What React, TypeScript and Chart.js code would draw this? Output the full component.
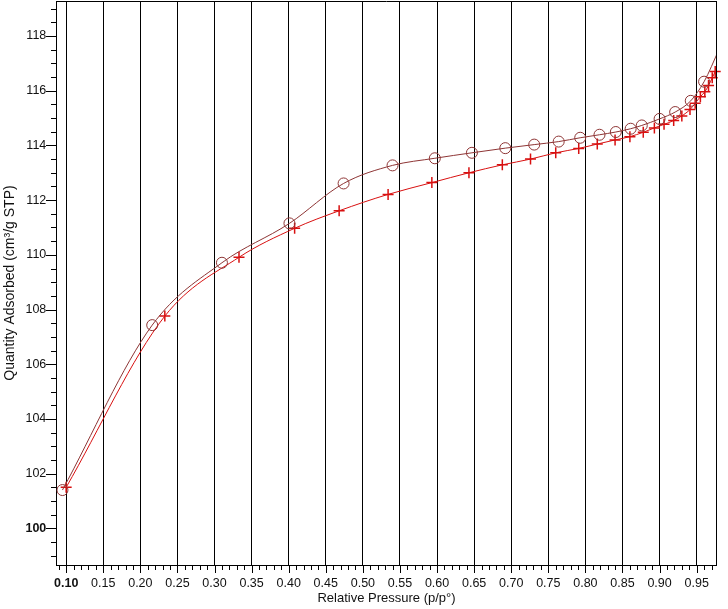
import React, { useEffect, useRef } from "react";
import { Chart, registerables } from "chart.js";

Chart.register(...registerables);

// Adsorption branch (red +)
const adsX = [0.100, 0.233, 0.333, 0.408, 0.468, 0.534, 0.593, 0.643, 0.688, 0.726, 0.760, 0.791, 0.816, 0.840, 0.860, 0.878, 0.893, 0.906, 0.919, 0.930, 0.941, 0.948, 0.955, 0.961, 0.966, 0.971, 0.975];
const adsY = [101.50, 107.76, 109.91, 110.97, 111.61, 112.21, 112.64, 113.00, 113.29, 113.50, 113.73, 113.89, 114.05, 114.20, 114.32, 114.48, 114.64, 114.77, 114.91, 115.08, 115.31, 115.54, 115.78, 115.96, 116.19, 116.47, 116.70];

// Desorption branch (brown circles)
const desX = [0.095, 0.216, 0.310, 0.401, 0.474, 0.540, 0.597, 0.647, 0.692, 0.731, 0.764, 0.793, 0.819, 0.841, 0.861, 0.876, 0.900, 0.921, 0.942, 0.960, 0.980];
const desY = [101.40, 107.43, 109.71, 111.15, 112.61, 113.27, 113.53, 113.73, 113.90, 114.03, 114.14, 114.28, 114.39, 114.49, 114.61, 114.73, 114.97, 115.22, 115.63, 116.33, 117.50];

// Axis ticks
const xMajorTicks = [0.10, 0.15, 0.20, 0.25, 0.30, 0.35, 0.40, 0.45, 0.50, 0.55, 0.60, 0.65, 0.70, 0.75, 0.80, 0.85, 0.90, 0.95];
const yMajorTicks = [100, 102, 104, 106, 108, 110, 112, 114, 116, 118];
const xMinorTicks = [0.09, 0.11, 0.12, 0.13, 0.14, 0.16, 0.17, 0.18, 0.19, 0.21, 0.22, 0.23, 0.24, 0.26, 0.27, 0.28, 0.29, 0.31, 0.32, 0.33, 0.34, 0.36, 0.37, 0.38, 0.39, 0.41, 0.42, 0.43, 0.44, 0.46, 0.47, 0.48, 0.49, 0.51, 0.52, 0.53, 0.54, 0.56, 0.57, 0.58, 0.59, 0.61, 0.62, 0.63, 0.64, 0.66, 0.67, 0.68, 0.69, 0.71, 0.72, 0.73, 0.74, 0.76, 0.77, 0.78, 0.79, 0.81, 0.82, 0.83, 0.84, 0.86, 0.87, 0.88, 0.89, 0.91, 0.92, 0.93, 0.94, 0.96, 0.97];
const yMinorTicks = [99, 99.5, 100.5, 101, 101.5, 102.5, 103, 103.5, 104.5, 105, 105.5, 106.5, 107, 107.5, 108.5, 109, 109.5, 110.5, 111, 111.5, 112.5, 113, 113.5, 114.5, 115, 115.5, 116.5, 117, 117.5, 118.5, 119];

const FONT = "'Liberation Sans', Arial, Helvetica, sans-serif";
const RED = "#d81010";
const BROWN = "#8e3535";

const framePlugin = {
  id: "frameTicks",
  afterDraw(chart: any) {
    const { ctx, chartArea: a, scales } = chart;
    const x = scales.x;
    const y = scales.y;
    ctx.save();
    ctx.strokeStyle = "#000";
    ctx.lineWidth = 1;
    ctx.beginPath();
    const top = Math.round(a.top) + 0.5;
    const right = Math.round(a.right) - 0.5;
    ctx.moveTo(a.left, top);
    ctx.lineTo(right, top);
    ctx.moveTo(right, a.top);
    ctx.lineTo(right, a.bottom);
    const b = Math.round(a.bottom);
    xMajorTicks.forEach((v) => {
      const px = Math.round(x.getPixelForValue(v)) + 0.5;
      ctx.moveTo(px, b);
      ctx.lineTo(px, b + 8);
    });
    xMinorTicks.forEach((v) => {
      const px = Math.round(x.getPixelForValue(v)) + 0.5;
      ctx.moveTo(px, b);
      ctx.lineTo(px, b + 5);
    });
    const l = Math.round(a.left);
    yMajorTicks.forEach((v) => {
      const py = Math.round(y.getPixelForValue(v)) + 0.5;
      ctx.moveTo(l, py);
      ctx.lineTo(l - 10, py);
    });
    yMinorTicks.forEach((v) => {
      const py = Math.round(y.getPixelForValue(v)) + 0.5;
      ctx.moveTo(l, py);
      ctx.lineTo(l - 5, py);
    });
    ctx.stroke();
    ctx.restore();
  },
};

export default function App() {
  const ref = useRef<HTMLCanvasElement>(null);
  useEffect(() => {
    if (!ref.current) return;
    const ads = adsX.map((v, i) => ({ x: v, y: adsY[i] }));
    const des = desX.map((v, i) => ({ x: v, y: desY[i] }));
    const chart = new Chart(ref.current, {
      type: "scatter",
      data: {
        datasets: [
          {
            label: "Desorption",
            data: des,
            showLine: true,
            borderColor: BROWN,
            borderWidth: 1,
            backgroundColor: "transparent",
            pointStyle: "circle",
            pointRadius: (c: any) => (c.dataIndex === desX.length - 1 ? 0 : 5.5),
            pointBorderColor: BROWN,
            pointBorderWidth: 1,
            pointBackgroundColor: "transparent",
            cubicInterpolationMode: "monotone",
          },
          {
            label: "Adsorption",
            data: ads,
            showLine: true,
            borderColor: RED,
            borderWidth: 1,
            backgroundColor: "transparent",
            pointStyle: "cross",
            pointRadius: 5.5,
            pointBorderColor: RED,
            pointBorderWidth: 1.5,
            cubicInterpolationMode: "monotone",
            clip: false,
          },
        ],
      } as any,
      options: {
        animation: false,
        responsive: false,
        maintainAspectRatio: false,
        layout: { autoPadding: false, padding: { left: 0, top: 1, right: 11.3, bottom: 0 } },
        plugins: { legend: { display: false }, tooltip: { enabled: false } },
        scales: {
          x: {
            type: "linear",
            min: 0.0867,
            max: 0.977,
            afterBuildTicks: (s: any) => {
              s.ticks = xMajorTicks.map((v) => ({ value: v }));
            },
            afterFit: (s: any) => {
              s.height = 44;
              s.paddingLeft = 0;
              s.paddingRight = 0;
              s.paddingTop = 0;
              s.paddingBottom = 0;
            },
            grid: { display: true, color: "#000", lineWidth: 1, drawTicks: false },
            border: { display: true, color: "#000", width: 1 },
            ticks: {
              padding: 11,
              color: "#111",
              maxRotation: 0,
              autoSkip: false,
              font: (c: any) => ({
                family: FONT,
                size: 12.5,
                weight: c.tick && Math.abs(c.tick.value - 0.1) < 1e-6 ? "bold" : "normal",
              }),
              callback: (v: any) => Number(v).toFixed(2),
            },
            title: {
              display: true,
              text: "Relative Pressure (p/p°)",
              color: "#111",
              font: { family: FONT, size: 13 },
              padding: { top: 0, bottom: 3 },
            },
          },
          y: {
            type: "linear",
            min: 98.66,
            max: 119.28,
            afterBuildTicks: (s: any) => {
              s.ticks = yMajorTicks.map((v) => ({ value: v }));
            },
            afterFit: (s: any) => {
              s.width = 56.3;
              s.paddingLeft = 0;
              s.paddingRight = 0;
              s.paddingTop = 0;
              s.paddingBottom = 0;
            },
            grid: { display: false, drawTicks: false },
            border: { display: true, color: "#000", width: 1 },
            ticks: {
              padding: 10,
              color: "#111",
              autoSkip: false,
              font: (c: any) => ({
                family: FONT,
                size: 12.5,
                weight: c.tick && c.tick.value === 100 ? "bold" : "normal",
              }),
              callback: (v: any) => String(v),
            },
            title: {
              display: true,
              text: "Quantity Adsorbed (cm³/g STP)",
              color: "#111",
              font: { family: FONT, size: 14 },
              padding: { top: 2, bottom: 0 },
            },
          },
        },
      } as any,
      plugins: [framePlugin],
    });
    return () => chart.destroy();
  }, []);

  return (
    <div style={{ position: "absolute", left: 0, top: 0, width: 728, height: 609, background: "#fff" }}>
      <canvas ref={ref} width={728} height={609} style={{ display: "block" }} />
    </div>
  );
}
